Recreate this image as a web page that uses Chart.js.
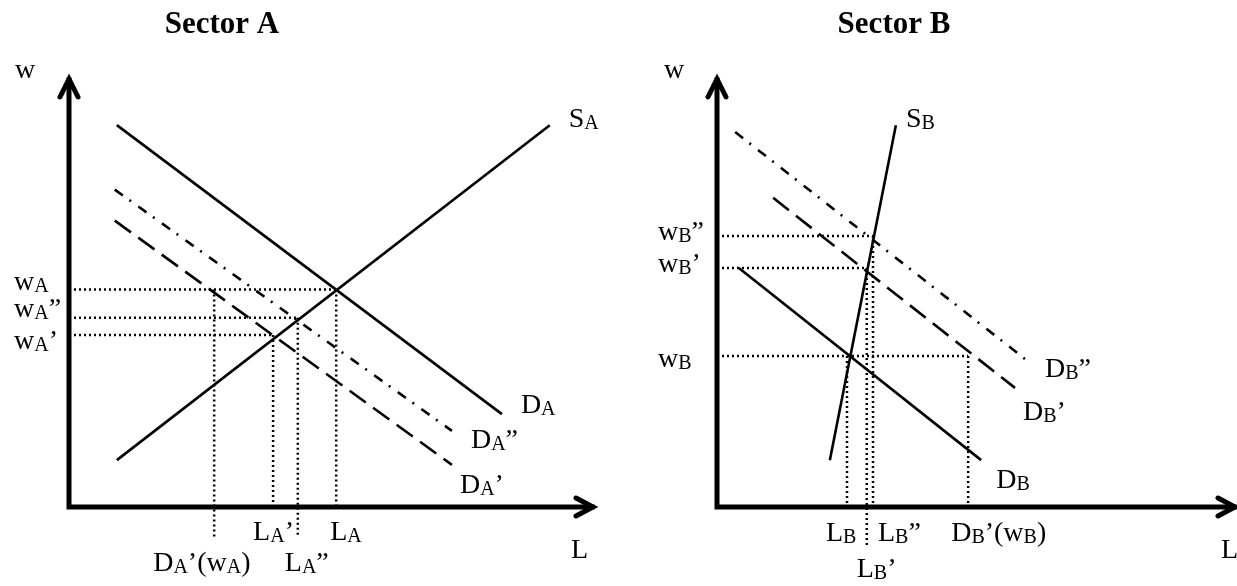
<!DOCTYPE html>
<html>
<head>
<meta charset="utf-8">
<script src="https://cdn.jsdelivr.net/npm/chart.js@4"></script>
<style>
html, body { margin: 0; padding: 0; background: #fff; }
.panel { position: absolute; top: 0; height: 586px; }
#boxA { left: 0; width: 618px; }
#boxB { left: 618px; width: 619px; }
</style>
</head>
<body>
<div class="panel" id="boxA"><canvas id="chartA"></canvas></div>
<div class="panel" id="boxB"><canvas id="chartB"></canvas></div>
<script>
// both axes run 0..100 (arbitrary units), '_' marks a subscript letter

// Sector A
var supplyA  = [[9.1, 10.9], [91.4, 88.8]];
var demandA  = [[9.1, 88.8], [82.3, 21.6]];
var demandA2 = [[8.7, 73.8], [72.8, 17.7]];   // D_A''
var demandA1 = [[8.7, 66.6], [72.8, 9.8]];    // D_A'
var curveLabelsA = ['S_A', 'D_A', 'D_A”', 'D_A’'];
var wageA = [50.6, 40.0, 44.0];
var wageLabelsA = ['w_A', 'w_A’', 'w_A”'];
var labourA = [50.8, 38.8, 43.5, 27.6];
var labourLabelsA = ['L_A', 'L_A’', 'L_A”', 'D_A’(w_A)'];
var labourWageA = [0, 1, 2, 0];   // which wage each labour point belongs to

// Sector B
var supplyB  = [[21.7, 10.9], [34.4, 88.8]];
var demandB2 = [[3.5, 87.2], [60.0, 33.7]];   // D_B''
var demandB1 = [[10.8, 71.9], [57.3, 27.7]];  // D_B'
var demandB  = [[4.2, 55.6], [50.8, 10.9]];
var curveLabelsB = ['S_B', 'D_B”', 'D_B’', 'D_B'];
var wageB = [35.1, 55.6, 63.0];
var wageLabelsB = ['w_B', 'w_B’', 'w_B”'];
var labourB = [25.0, 28.8, 30.0, 48.3];
var labourLabelsB = ['L_B', 'L_B’', 'L_B”', 'D_B’(w_B)'];
var labourWageB = [0, 1, 2, 0];

var SOLID = [], DASHED = [20, 9], DASHDOT = [10, 8, 2, 9], DOTTED = [2, 3];
var FONT = '"Liberation Serif", "Times New Roman", serif';

function pts(arr) {
  return arr.map(function (p) { return { x: p[0], y: p[1] }; });
}

function richText(ctx, str, x, y, size) {
  var parts = [];
  for (var i = 0; i < str.length; i++) {
    if (str[i] === '_') { parts.push({ t: str[i + 1], sub: true }); i++; }
    else if (parts.length && !parts[parts.length - 1].sub) parts[parts.length - 1].t += str[i];
    else parts.push({ t: str[i], sub: false });
  }
  ctx.textAlign = 'left';
  ctx.textBaseline = 'alphabetic';
  parts.forEach(function (p) {
    ctx.font = (p.sub ? Math.round(size * 0.7) : size) + 'px ' + FONT;
    ctx.fillText(p.t, x, y + (p.sub ? 2 : 0));
    x += ctx.measureText(p.t).width;
  });
}

// axes with arrow heads, titles and all the letters
var diagramPlugin = {
  id: 'diagram',
  afterDatasetsDraw: function (chart) {
    var o = chart.options.plugins.diagram;
    var ctx = chart.ctx, xs = chart.scales.x, ys = chart.scales.y;
    var x0 = xs.getPixelForValue(0), y0 = ys.getPixelForValue(0);
    var xEnd = xs.getPixelForValue(100), yEnd = ys.getPixelForValue(100);
    ctx.save();
    ctx.strokeStyle = '#000';
    ctx.fillStyle = '#000';
    ctx.lineWidth = 5;
    ctx.lineCap = 'square';
    ctx.beginPath();
    ctx.moveTo(x0, y0); ctx.lineTo(x0, yEnd + 3);
    ctx.moveTo(x0, y0); ctx.lineTo(xEnd - 3, y0);
    ctx.stroke();
    ctx.lineCap = 'round';
    ctx.lineJoin = 'miter';
    ctx.beginPath();
    ctx.moveTo(x0 - 9, yEnd + 20); ctx.lineTo(x0, yEnd + 2); ctx.lineTo(x0 + 9, yEnd + 20);
    ctx.moveTo(xEnd - 19, y0 - 9); ctx.lineTo(xEnd - 2, y0); ctx.lineTo(xEnd - 19, y0 + 9);
    ctx.stroke();

    ctx.font = 'bold 31px ' + FONT;
    ctx.textAlign = 'center';
    ctx.textBaseline = 'alphabetic';
    ctx.fillText(o.title, o.titleX, 33);

    richText(ctx, 'w', x0 + o.wDx, yEnd + 1, 28);
    richText(ctx, 'L', xEnd + o.lDx, y0 + 51, 28);

    chart.data.datasets.forEach(function (ds, i) {
      if (!ds.curveLabel) return;
      var last = ds.data[ds.data.length - 1];
      var off = o.curveOffsets[i];
      richText(ctx, ds.curveLabel, xs.getPixelForValue(last.x) + off[0], ys.getPixelForValue(last.y) + off[1], 28);
    });
    o.wages.forEach(function (w, i) {
      richText(ctx, o.wageLabels[i], x0 + o.wageDx, ys.getPixelForValue(w) + o.wageDy[i], 28);
    });
    o.labour.forEach(function (l, i) {
      richText(ctx, o.labourLabels[i], xs.getPixelForValue(l) + o.labourDx[i], y0 + o.rowY[o.labourRow[i]], 28);
    });
    ctx.restore();
  }
};

function makeChart(id, curves, curveLabels, dashes, wages, wageLabels, labour, labourLabels, labourWage, layout) {
  var datasets = curves.map(function (c, i) {
    return {
      data: pts(c), curveLabel: curveLabels[i], borderDash: dashes[i],
      borderWidth: 2.6
    };
  });
  // dotted guide lines: wage across to its furthest labour point, labour down to the axis
  wages.forEach(function (w, wi) {
    var reach = 0;
    labour.forEach(function (l, li) { if (labourWage[li] === wi) reach = Math.max(reach, l); });
    datasets.push({ data: pts([[0, w], [reach, w]]), borderDash: DOTTED, borderWidth: 2.5 });
  });
  labour.forEach(function (l, li) {
    var bottom = layout.labourRow[li] === 1 ? layout.drop : 0;
    datasets.push({ data: pts([[l, wages[labourWage[li]]], [l, bottom]]), borderDash: DOTTED, borderWidth: 2.5 });
  });
  datasets.forEach(function (ds) {
    ds.showLine = true;
    ds.pointRadius = 0;
    ds.borderColor = '#000';
    ds.fill = false;
    ds.clip = false;
    ds.tension = 0;
  });
  var diag = Object.assign({
    wages: wages, wageLabels: wageLabels, labour: labour, labourLabels: labourLabels
  }, layout);
  return new Chart(document.getElementById(id), {
    type: 'scatter',
    data: { datasets: datasets },
    options: {
      responsive: true,
      maintainAspectRatio: false,
      animation: false,
      events: [],
      layout: { padding: layout.pad },
      plugins: {
        legend: { display: false },
        tooltip: { enabled: false },
        diagram: diag
      },
      scales: {
        x: { type: 'linear', min: 0, max: 100, display: false },
        y: { type: 'linear', min: 0, max: 100, display: false }
      }
    },
    plugins: [diagramPlugin]
  });
}

makeChart('chartA', [supplyA, demandA, demandA2, demandA1], curveLabelsA,
  [SOLID, SOLID, DASHDOT, DASHED], wageA, wageLabelsA, labourA, labourLabelsA, labourWageA, {
    pad: { left: 69, right: 23, top: 77, bottom: 79 },
    title: 'Sector A', titleX: 222,
    wDx: -54, lDx: -24,
    curveOffsets: [[19, 2], [19, -1], [19, 17], [8, 28]],
    wageDx: -55, wageDy: [1, 14, -1],
    labourDx: [-6, -20, -13, -61], labourRow: [0, 0, 1, 1],
    rowY: [33, 64], drop: -7
  });

makeChart('chartB', [supplyB, demandB2, demandB1, demandB], curveLabelsB,
  [SOLID, DASHDOT, DASHED, SOLID], wageB, wageLabelsB, labourB, labourLabelsB, labourWageB, {
    pad: { left: 99, right: 0, top: 77, bottom: 79 },
    title: 'Sector B', titleX: 276,
    wDx: -53, lDx: -16,
    curveOffsets: [[10, 2], [16, 15], [8, 32], [15, 28]],
    wageDx: -59, wageDy: [11, 4, 4],
    labourDx: [-21, -10, 5, -17], labourRow: [0, 1, 0, 0],
    rowY: [34, 70], drop: -9.5
  });
</script>
</body>
</html>
